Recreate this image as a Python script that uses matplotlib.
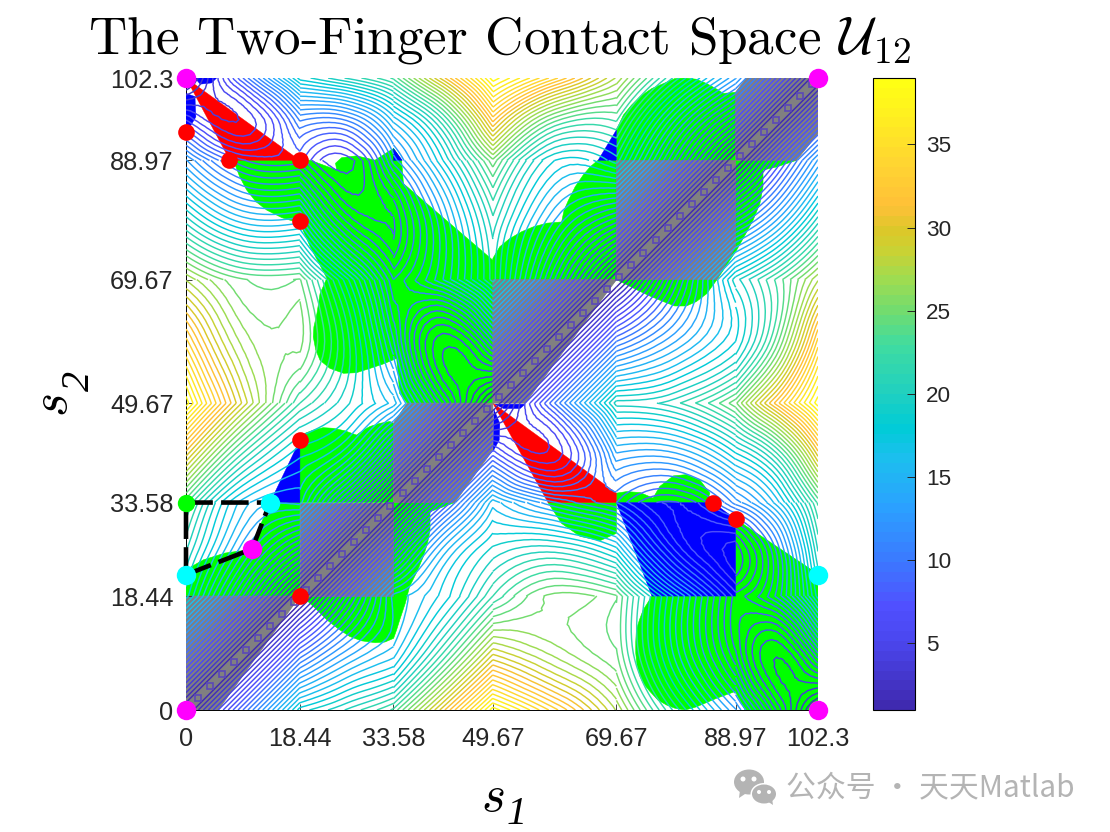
import numpy as np
import matplotlib
matplotlib.use("Agg")
import matplotlib.pyplot as plt
import matplotlib.tri as mtri
from matplotlib.colors import LinearSegmentedColormap, Normalize
from matplotlib.cm import ScalarMappable
from matplotlib.patches import Polygon, Ellipse

plt.rcParams['font.family'] = ['Liberation Sans', 'DejaVu Sans']
plt.rcParams['mathtext.fontset'] = 'cm'

# arc length marks on both axes
tick_vals = [0, 18.44, 33.58, 49.67, 69.67, 88.97, 102.3]
tick_labels = ["0", "18.44", "33.58", "49.67", "69.67", "88.97", "102.3"]

# contact distance at these arc lengths
s_nodes = [0, 9.22, 18.44, 26, 33.58, 41.6, 49.67, 59.67, 69.67, 79.3, 88.97, 95.6, 102.3]
u_table = [
    [0, 9.2, 18.4, 20.5, 23, 30.5, 38.5, 33.5, 27.5, 20, 13.3, 6.7, 0],
    [9.2, 0, 9.2, 13.5, 16, 22, 29, 26.5, 24.5, 16, 8.5, 4.5, 9.2],
    [18.4, 9.2, 0, 7.6, 15.1, 17.5, 22, 25.5, 24.5, 16, 8, 11, 18.4],
    [20.5, 13.5, 7.6, 0, 7.6, 15, 19, 20, 17.5, 9, 5.5, 11, 20.5],
    [23, 16, 15.1, 7.6, 0, 8, 16.1, 12.5, 10, 7.5, 12, 16, 23],
    [30.5, 22, 17.5, 15, 8, 0, 8, 5.5, 14, 14, 18, 22, 30.5],
    [38.5, 29, 22, 19, 16.1, 8, 0, 10, 20, 21, 25, 32, 38.5],
    [33.5, 26.5, 25.5, 20, 12.5, 5.5, 10, 0, 10, 14, 18, 24, 33.5],
    [27.5, 24.5, 24.5, 17.5, 10, 14, 20, 10, 0, 9.6, 19.3, 23, 27.5],
    [20, 16, 16, 9, 7.5, 14, 21, 14, 9.6, 0, 9.6, 14, 20],
    [13.3, 8.5, 8, 5.5, 12, 18, 25, 18, 19.3, 9.6, 0, 6.7, 13.3],
    [6.7, 4.5, 11, 11, 16, 22, 32, 24, 23, 14, 6.7, 0, 6.7],
    [0, 9.2, 18.4, 20.5, 23, 30.5, 38.5, 33.5, 27.5, 20, 13.3, 6.7, 0],
]

# regions
green_regions = [
    [(7.66, 89), (8.7, 86.3), (9.8, 84.2), (11.3, 82.3), (13.1, 80.9), (15.5, 79.7), (18.45, 78.8), (20.1, 75),
     (22.8, 69.9), (21.7, 67.4), (21.2, 64.2), (20.7, 62), (20.6, 60.4), (21, 58.3), (21.7, 56.6), (23.3, 55.3),
     (25.5, 54.5), (27.6, 54.6), (29.8, 55.3), (31.9, 56), (34.1, 56.9), (34.6, 51.2), (35.8, 49.67), (49.67, 49.67),
     (49.67, 72.8), (35.2, 85.2), (34.9, 89), (33.6, 90.9), (30.6, 89), (27.6, 89.7), (25.2, 89.4), (24.2, 88.5),
     (24.4, 87.4), (20.1, 89), (18.45, 89)],
    [(49.67, 49.67), (49.67, 73.1), (50.8, 75), (52.4, 76.3), (54.3, 77.4), (56.2, 78.2), (58.4, 78.8), (60.8, 79),
     (61.2, 80.9), (61.9, 82.5), (63, 84.7), (64.3, 86.6), (65.4, 87.9), (66.7, 89), (69.67, 89), (69.67, 93.9),
     (70.8, 96.3), (72.1, 97.9), (73.5, 99.3), (75.4, 100.6), (77.3, 101.4), (79.1, 102.2), (80.8, 102.3),
     (82.6, 102.1), (84.3, 101.4), (85.9, 100.5), (87, 99.8), (88.97, 100), (98.8, 88.97), (95.6, 87.9), (93.4, 87.4),
     (93.4, 84.7), (92.9, 82), (91.8, 79.3), (90.5, 76.9), (89.1, 74.4), (87.5, 72), (85.9, 69.6), (84.3, 67.4),
     (82.6, 66.1), (81, 65.4), (79.1, 65.4), (77.3, 66.1), (75.1, 67), (73, 68), (69.67, 69.67)],
    [(0, 18.44), (0, 22.7), (2.8, 24.3), (6.3, 25.4), (10.6, 26), (11.7, 29.1), (13.6, 33.58), (18.44, 33.58),
     (18.44, 18.44)],
    [(18.44, 43.7), (19.3, 44.8), (20.6, 45.3), (22.2, 45.7), (23.8, 45.6), (25.7, 45.2), (27.6, 44.5), (28.7, 45.3),
     (29.8, 45.9), (31.4, 46.4), (33, 46.7), (33.58, 46.4), (33.58, 33.58), (18.44, 33.58)],
    [(33.58, 33.58), (43.5, 33.58), (39.5, 32.1), (39.5, 29.1), (39.1, 27), (38.4, 24.8), (37.4, 22.4), (36.2, 20),
     (35.5, 17.3), (34.6, 14.6), (34.1, 13), (33.6, 11.6), (32.2, 11), (30.6, 10.9), (28.4, 11.2), (26.5, 11.9),
     (24.7, 13.1), (22.8, 14.6), (21.2, 16.2), (19.5, 17.8), (18.44, 18.44)],
    [(58.6, 33.58), (69.67, 33.58), (69.67, 28.6), (67, 27.4), (63.8, 28.1), (60.8, 30.2)],
    [(69.67, 33.58), (69.67, 35.1), (71.3, 35.35), (73.5, 35.2), (75.6, 34.3), (76.7, 36.2), (78.9, 37.9), (81, 38.1),
     (83.2, 37.2), (84.8, 35.1), (84.3, 33.58)],
    [(88.97, 30.9), (102.3, 22), (102.3, 0), (90.5, 0), (88.9, 3), (85.9, 1.9), (82.6, 0.5), (80.8, 0), (79.1, 0.3),
     (77.8, 0.8), (76.4, 1.6), (75.1, 3), (74.1, 4.2), (73.5, 5.4), (73, 7.3), (72.8, 9.2), (72.8, 11), (72.9, 13),
     (73.4, 14.6), (74, 16.2), (74.7, 17.3), (75.4, 18.44), (88.97, 18.44)],
]
blue_regions = [
    [(33.58, 88.97), (33.58, 90.9), (35, 88.97)],
    [(66.7, 88.97), (69.67, 93.9), (69.67, 88.97)],
    [(13.6, 33.58), (18.44, 43.7), (18.44, 33.58)],
    [(69.67, 33.58), (84.3, 33.58), (85.3, 33.58), (88.97, 30.9), (88.97, 18.44), (75.4, 18.44)],
    [(0, 99.8), (1.45, 99.3), (1.6, 96), (0.65, 94.4), (0, 93.6)],
    [(1.45, 102.3), (4.96, 102.3), (4.15, 101.5), (2.3, 101.3)],
    [(49.85, 48.6), (50.8, 46.4), (50.7, 43.7), (49.67, 41.8)],
    [(50, 49.5), (54.9, 49.5), (54.1, 48.8), (51.4, 48.8)],
]
red_regions = [
    [(0, 102.3), (18.44, 88.97), (7.1, 88.97)],
    [(49.67, 49.67), (69.67, 35.1), (69.67, 33.58), (58.6, 33.58)],
]
gray_regions = [
    [(0, 0), (0, 18.44), (18.44, 18.44), (5.2, 0)],
    [(18.44, 18.44), (18.44, 33.58), (33.58, 33.58), (33.58, 18.44)],
    [(33.58, 33.58), (33.58, 46.4), (35.8, 49.67), (49.67, 49.67), (49.67, 42.1), (43.5, 33.58)],
    [(49.67, 49.67), (49.67, 69.67), (69.67, 69.67), (54.9, 49.67)],
    [(69.67, 69.67), (69.67, 88.97), (88.97, 88.97), (88.97, 75), (85.9, 69.67)],
    [(88.97, 88.97), (88.97, 100), (90.7, 102.3), (102.3, 102.3), (102.3, 93.3), (98.8, 88.97)],
]

# contact points
path_s1 = [0, 0, 13.6, 10.7, 0]
path_s2 = [21.9, 33.58, 33.58, 26.06, 21.9]
magenta_s1 = [0, 102.3, 0, 102.3, 10.7]
magenta_s2 = [102.3, 102.3, 0, 0, 26.06]
red_s1 = [0, 7, 18.44, 18.44, 18.44, 18.44, 85.3, 89]
red_s2 = [93.6, 89, 88.97, 79.1, 43.7, 18.44, 33.5, 30.9]
cyan_s1 = [0, 13.6, 102.3]
cyan_s2 = [21.9, 33.58, 21.9]
lime_s1 = [0]
lime_s2 = [33.58]
diag_marks = np.arange(1.9, 101.5, 1.95)

cbar_ticks = [5, 10, 15, 20, 25, 30, 35]
cmap_stops = [
    (0.96, '#3f2ab0'), (5, '#4b47f0'), (7, '#5050ff'), (10, '#3a7cff'), (13, '#2ba0ff'), (16, '#1cbfef'),
    (18, '#00ccd6'), (20, '#20d0c0'), (23, '#40dca0'), (25, '#70dc70'), (27, '#a0dc50'), (29, '#cfd030'),
    (30, '#dcc82a'), (31.5, '#ffc038'), (34, '#ffd432'), (37, '#fff020'), (39, '#ffff14'),
]

W = 1110
H = 832
def fx(px):
    return px / W
def fy(py):
    return 1 - py / H

fig = plt.figure(figsize=(W / 100, H / 100), dpi=100)
ax = fig.add_axes([fx(186), fy(710), fx(818) - fx(186), fy(78) - fy(710)])

for poly in green_regions:
    ax.add_patch(Polygon(poly, closed=True, fc='#00ff00', ec='#00ff00', lw=0.4, zorder=1))
for poly in blue_regions:
    ax.add_patch(Polygon(poly, closed=True, fc='#0000ff', ec='#0000ff', lw=0.3, zorder=1.1))
for poly in red_regions:
    ax.add_patch(Polygon(poly, closed=True, fc='#ff0000', ec='#ff0000', lw=0.3, zorder=1.1))
for poly in gray_regions:
    ax.add_patch(Polygon(poly, closed=True, fc='#808080', ec='#808080', lw=0.6, zorder=1.2))

vmin = 0.96
vmax = 39
norm = Normalize(vmin, vmax)
cmap = LinearSegmentedColormap.from_list(
    'bar', [((v - vmin) / (vmax - vmin), c) for v, c in cmap_stops], N=64)
levels = np.arange(1.2, 38.9, 0.8)

# one patch per pair of edges, the creases at the tick lines have to stay
u_arr = np.array(u_table)
tile_tris = [[0, 1, 4], [0, 4, 3], [1, 2, 5], [1, 5, 4], [3, 4, 7], [3, 7, 6], [4, 5, 8], [4, 8, 7]]
for i in range(0, 12, 2):
    for j in range(0, 12, 2):
        xx, yy = np.meshgrid(s_nodes[i:i + 3], s_nodes[j:j + 3])
        z = u_arr[j:j + 3, i:i + 3].ravel()
        t = mtri.Triangulation(xx.ravel(), yy.ravel(), tile_tris)
        if i == j:
            # s1=s2 runs through these, they are plain straight lines
            ax.tricontour(t, z, levels=levels, cmap=cmap, norm=norm, linewidths=1.05, zorder=3)
        else:
            interp = mtri.CubicTriInterpolator(t, z, kind='min_E')
            tr, zr = mtri.UniformTriRefiner(t).refine_field(z, interp, subdiv=3)
            ax.tricontour(tr, zr, levels=levels, cmap=cmap, norm=norm, linewidths=1.05, zorder=3)

ax.plot(diag_marks, diag_marks, ls='none', marker='s', ms=4.8, mfc='none', mec='#5a48b8', mew=1.2, zorder=3)

ax.plot(path_s1, path_s2, color='k', lw=3.3, dashes=(6, 1.8), zorder=4, clip_on=False)
ax.plot(lime_s1, lime_s2, 'o', color='#00ff00', ms=12.5, mew=0, zorder=5, clip_on=False)
ax.plot(red_s1, red_s2, 'o', color='#ff0000', ms=12, mew=0, zorder=5, clip_on=False)
ax.plot(cyan_s1, cyan_s2, 'o', color='#00ffff', ms=14, mew=0, zorder=5, clip_on=False)
ax.plot(magenta_s1, magenta_s2, 'o', color='#ff00ff', ms=14, mew=0, zorder=5, clip_on=False)

ax.set_xlim(0, 102.3)
ax.set_ylim(0, 102.3)
ax.set_xticks(tick_vals, tick_labels)
ax.set_yticks(tick_vals, tick_labels)
ax.tick_params(direction='in', length=4, width=0.6, labelsize=18.3, labelcolor='#262626', color='#262626')
ax.tick_params(axis='x', pad=12)
ax.tick_params(axis='y', pad=9)
ax.spines['top'].set_visible(False)
ax.spines['right'].set_visible(False)
ax.spines['left'].set_linewidth(0.7)
ax.spines['bottom'].set_linewidth(0.7)
ax.spines['left'].set_zorder(0.5)
ax.spines['bottom'].set_zorder(0.5)

cax = fig.add_axes([fx(873), fy(710), fx(915) - fx(873), fy(78) - fy(710)])
cb = fig.colorbar(ScalarMappable(norm=norm, cmap=cmap), cax=cax, ticks=cbar_ticks)
cb.ax.tick_params(direction='in', length=6, width=0.7, labelsize=16.2, labelcolor='#262626', color='#262626', pad=8)
cb.outline.set_linewidth(0.8)

fig.text(fx(500), fy(54), r"The Two-Finger Contact Space $\mathcal{U}_{12}$", ha='center', va='baseline',
         fontsize=38.2, family='cmr10', color='k')

fig.text(fx(493), fy(797), r"$s$", ha='center', va='center', fontsize=37)
fig.text(fx(517), fy(815), "1", ha='center', va='center', fontsize=29, family='Liberation Serif', style='italic')
fig.text(fx(53), fy(405), r"$s$", ha='center', va='center', fontsize=37, rotation=90)
fig.text(fx(79), fy(381), "2", ha='center', va='center', fontsize=29, family='Liberation Serif', style='italic',
         rotation=90)

# watermark
mark = '#b4b4b4'
fig.text(fx(786), fy(788), "公众号 · 天天Matlab", ha='left', va='center', fontsize=21.5, color=mark,
         family=['Noto Sans CJK SC', 'DejaVu Sans'])
fig.add_artist(Ellipse((fx(749), fy(782)), 30 / W, 25 / H, fc=mark, ec='none', transform=fig.transFigure))
fig.add_artist(Polygon([(fx(740), fy(790)), (fx(739), fy(798)), (fx(748), fy(792))], fc=mark, ec='none',
                       transform=fig.transFigure))
fig.add_artist(Ellipse((fx(764), fy(794)), 27 / W, 22 / H, fc='white', ec='none', transform=fig.transFigure))
fig.add_artist(Ellipse((fx(764), fy(794)), 24 / W, 19 / H, fc=mark, ec='none', transform=fig.transFigure))
fig.add_artist(Polygon([(fx(767), fy(801)), (fx(773), fy(805)), (fx(772), fy(798))], fc=mark, ec='none',
                       transform=fig.transFigure))
for ex, ey, es in [(743, 779, 5), (754, 779, 5), (759, 792, 4), (769, 792, 4)]:
    fig.add_artist(Ellipse((fx(ex), fy(ey)), es / W, es / H, fc='white', ec='none', transform=fig.transFigure))

fig.savefig("out.png", dpi=100)
